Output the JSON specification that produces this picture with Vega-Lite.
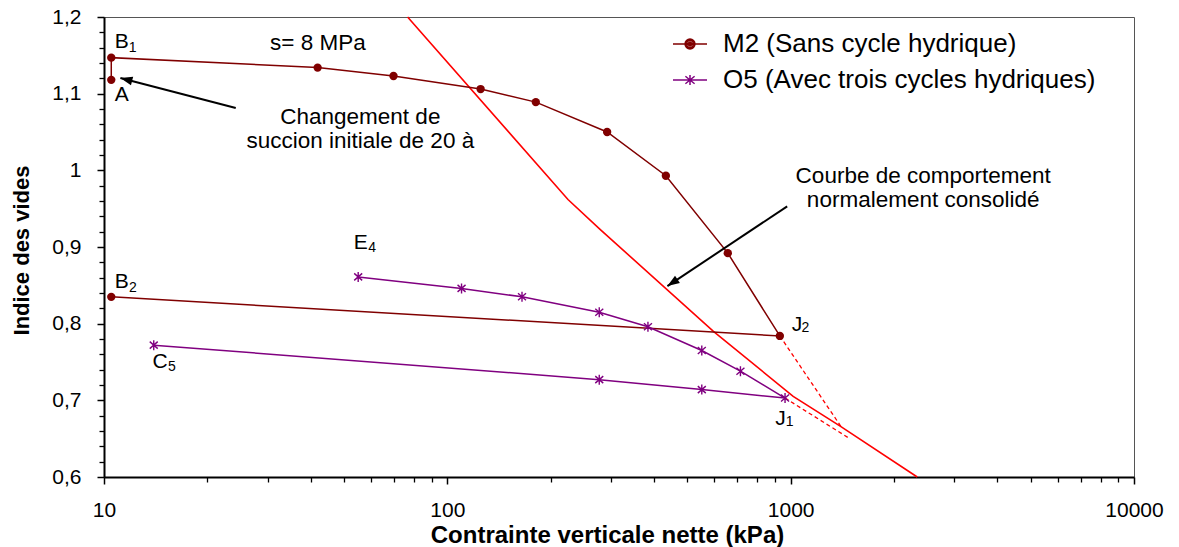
{
  "$schema": "https://vega.github.io/schema/vega-lite/v6.json",
  "autosize": {"type": "none"},
  "padding": {"left": 104, "top": 17, "right": 45, "bottom": 70},
  "width": 1030,
  "height": 460,
  "background": "white",
  "config": {
    "font": "Liberation Sans",
    "view": {"stroke": "#555", "strokeWidth": 1},
    "axis": {"grid": false, "domainColor": "#000", "tickColor": "#000", "labelColor": "#000", "titleColor": "#000"}
  },
  "datasets": {
    "curves": [
      {"serie": "M2 (Sans cycle hydrique)", "i": 0, "sigma": 10.5, "e": 1.118},
      {"serie": "M2 (Sans cycle hydrique)", "i": 1, "sigma": 10.5, "e": 1.147},
      {"serie": "M2 (Sans cycle hydrique)", "i": 2, "sigma": 41.9, "e": 1.134},
      {"serie": "M2 (Sans cycle hydrique)", "i": 3, "sigma": 69.7, "e": 1.123},
      {"serie": "M2 (Sans cycle hydrique)", "i": 4, "sigma": 125, "e": 1.106},
      {"serie": "M2 (Sans cycle hydrique)", "i": 5, "sigma": 181, "e": 1.089},
      {"serie": "M2 (Sans cycle hydrique)", "i": 6, "sigma": 292, "e": 1.05},
      {"serie": "M2 (Sans cycle hydrique)", "i": 7, "sigma": 433, "e": 0.993},
      {"serie": "M2 (Sans cycle hydrique)", "i": 8, "sigma": 656, "e": 0.892},
      {"serie": "M2 (Sans cycle hydrique)", "i": 9, "sigma": 930, "e": 0.784},
      {"serie": "M2 (Sans cycle hydrique)", "i": 10, "sigma": 10.5, "e": 0.835},
      {"serie": "O5 (Avec trois cycles hydriques)", "i": 0, "sigma": 55, "e": 0.861},
      {"serie": "O5 (Avec trois cycles hydriques)", "i": 1, "sigma": 110, "e": 0.846},
      {"serie": "O5 (Avec trois cycles hydriques)", "i": 2, "sigma": 165, "e": 0.835},
      {"serie": "O5 (Avec trois cycles hydriques)", "i": 3, "sigma": 277, "e": 0.815},
      {"serie": "O5 (Avec trois cycles hydriques)", "i": 4, "sigma": 384, "e": 0.796},
      {"serie": "O5 (Avec trois cycles hydriques)", "i": 5, "sigma": 551, "e": 0.765},
      {"serie": "O5 (Avec trois cycles hydriques)", "i": 6, "sigma": 714, "e": 0.738},
      {"serie": "O5 (Avec trois cycles hydriques)", "i": 7, "sigma": 963, "e": 0.703},
      {"serie": "O5 (Avec trois cycles hydriques)", "i": 8, "sigma": 551, "e": 0.714},
      {"serie": "O5 (Avec trois cycles hydriques)", "i": 9, "sigma": 277, "e": 0.727},
      {"serie": "O5 (Avec trois cycles hydriques)", "i": 10, "sigma": 13.96, "e": 0.772}
    ],
    "ncl": [
      {"sigma": 76.6, "e": 1.2},
      {"sigma": 224.6, "e": 0.962},
      {"sigma": 278.5, "e": 0.923},
      {"sigma": 595.7, "e": 0.79},
      {"sigma": 1017, "e": 0.7052},
      {"sigma": 1394, "e": 0.6664},
      {"sigma": 2337, "e": 0.6}
    ],
    "dash": [
      {"g": "J2", "sigma": 930, "e": 0.784},
      {"g": "J2", "sigma": 1410, "e": 0.664},
      {"g": "J1", "sigma": 963, "e": 0.703},
      {"g": "J1", "sigma": 1474, "e": 0.651}
    ],
    "arrows": [
      {"id": "a", "xt": 24.2, "yt": 1.0814, "xh": 11.16, "yh": 1.1205},
      {"id": "b", "xt": 977, "yt": 0.953, "xh": 437.5, "yh": 0.849}
    ],
    "letters": [
      {"txt": "B", "sigma": 10.744, "e": 1.1672},
      {"txt": "A", "sigma": 10.744, "e": 1.098},
      {"txt": "B", "sigma": 10.744, "e": 0.8544},
      {"txt": "C", "sigma": 13.84, "e": 0.75},
      {"txt": "E", "sigma": 53.4, "e": 0.9055},
      {"txt": "J", "sigma": 1008, "e": 0.7977},
      {"txt": "J", "sigma": 901.5, "e": 0.6752}
    ],
    "subs": [
      {"txt": "1", "sigma": 11.8, "e": 1.16},
      {"txt": "2", "sigma": 11.82, "e": 0.8468},
      {"txt": "5", "sigma": 15.35, "e": 0.743},
      {"txt": "4", "sigma": 58.8, "e": 0.899},
      {"txt": "2", "sigma": 1075, "e": 0.7937},
      {"txt": "1", "sigma": 967, "e": 0.6717}
    ],
    "notes": [
      {"txt": "s= 8 MPa", "sigma": 41.97, "e": 1.1665},
      {"txt": "Changement de", "sigma": 55.8, "e": 1.0694},
      {"txt": "succion initiale de 20 à", "sigma": 55.8, "e": 1.0388},
      {"txt": "Courbe de comportement", "sigma": 2432, "e": 0.9932},
      {"txt": "normalement consolidé", "sigma": 2432, "e": 0.9619}
    ]
  },
  "resolve": {"axis": {"x": "independent", "y": "independent"}, "legend": {"color": "independent", "shape": "independent"}},
  "layer": [
    {
      "data": {"name": "ncl"},
      "mark": {"type": "line", "color": "#ff0000", "strokeWidth": 1.6},
      "encoding": {
        "x": {"field": "sigma", "type": "quantitative", "scale": {"type": "log", "domain": [10, 10000]},
          "axis": {"orient": "bottom", "values": [20, 30, 40, 50, 60, 70, 80, 90, 200, 300, 400, 500, 600, 700, 800, 900, 2000, 3000, 4000, 5000, 6000, 7000, 8000, 9000], "labels": false, "tickSize": 5, "tickWidth": 1.3, "domain": false, "title": null}},
        "y": {"field": "e", "type": "quantitative", "scale": {"domain": [0.6, 1.2], "zero": false, "nice": false},
          "axis": {"orient": "left", "values": [0.62, 0.64, 0.66, 0.68, 0.72, 0.74, 0.76, 0.78, 0.82, 0.84, 0.86, 0.88, 0.92, 0.94, 0.96, 0.98, 1.02, 1.04, 1.06, 1.08, 1.12, 1.14, 1.16, 1.18], "labels": false, "tickSize": 5, "tickWidth": 1.3, "domain": false, "title": null}}
      }
    },
    {
      "data": {"name": "dash"},
      "mark": {"type": "line", "color": "#ff0000", "strokeWidth": 1.3, "strokeDash": [4, 3]},
      "encoding": {
        "x": {"field": "sigma", "type": "quantitative",
          "axis": {"orient": "bottom", "values": [10, 100, 1000, 10000], "format": "d", "tickSize": 7, "tickWidth": 1.5, "domainWidth": 2, "labelFontSize": 21, "labelPadding": 15, "labelFlush": false,
            "title": "Contrainte verticale nette (kPa)", "titleFontSize": 24, "titleFontWeight": "bold", "titleX": 503, "titleY": 46, "titleBaseline": "top", "titleAlign": "center"}},
        "y": {"field": "e", "type": "quantitative",
          "axis": {"orient": "left", "values": [0.6, 0.7, 0.8, 0.9, 1, 1.1, 1.2], "labelExpr": "replace(format(datum.value, '.1~f'), '.', ',')", "tickSize": 7, "tickWidth": 1.5, "domainWidth": 2, "labelFontSize": 21, "labelPadding": 16, "labelFlush": false,
            "title": "Indice des vides", "titleFontSize": 22, "titleFontWeight": "bold", "titleAngle": -90, "titleX": -76, "titleY": 233, "titleBaseline": "alphabetic", "titleAlign": "center"}},
        "detail": {"field": "g"}
      }
    },
    {
      "data": {"name": "curves"},
      "mark": {"type": "line", "strokeWidth": 1.5},
      "encoding": {
        "x": {"field": "sigma", "type": "quantitative", "axis": null},
        "y": {"field": "e", "type": "quantitative", "axis": null},
        "order": {"field": "i"},
        "detail": {"field": "serie"},
        "color": {"field": "serie", "type": "nominal",
          "scale": {"domain": ["M2 (Sans cycle hydrique)", "O5 (Avec trois cycles hydriques)"], "range": ["#800000", "#800080"]},
          "legend": null}
      }
    },
    {
      "data": {"name": "curves"},
      "mark": {"type": "point", "filled": false, "opacity": 0, "strokeWidth": 1.5},
      "encoding": {
        "x": {"field": "sigma", "type": "quantitative", "axis": null},
        "y": {"field": "e", "type": "quantitative", "axis": null},
        "color": {"field": "serie", "type": "nominal",
          "legend": {"orient": "none", "legendX": 568, "legendY": 9, "title": null, "padding": 0,
            "labelFont": "Liberation Sans", "labelFontSize": 26, "labelColor": "#000", "labelOffset": 15, "labelLimit": 600,
            "symbolSize": 1156, "symbolOpacity": 1, "symbolStrokeWidth": 1.5, "rowPadding": 5}},
        "shape": {"field": "serie", "type": "nominal",
          "scale": {"domain": ["M2 (Sans cycle hydrique)", "O5 (Avec trois cycles hydriques)"],
            "range": ["M-1,0L1,0M-0.29,0A0.29,0.29 0 1,1 0.29,0A0.29,0.29 0 1,1 -0.29,0M-0.2,0A0.2,0.2 0 1,1 0.2,0A0.2,0.2 0 1,1 -0.2,0M-0.11,0A0.11,0.11 0 1,1 0.11,0A0.11,0.11 0 1,1 -0.11,0M-0.04,0A0.04,0.04 0 1,1 0.04,0A0.04,0.04 0 1,1 -0.04,0",
                      "M-1,0L1,0M0,-0.3L0,0.3M-0.27,-0.22L0.27,0.22M-0.27,0.22L0.27,-0.22"]},
          "legend": {"orient": "none", "legendX": 568, "legendY": 9, "title": null, "padding": 0,
            "labelFont": "Liberation Sans", "labelFontSize": 26, "labelColor": "#000", "labelOffset": 15, "labelLimit": 600,
            "symbolSize": 1156, "symbolOpacity": 1, "symbolStrokeWidth": 1.5, "rowPadding": 5}}
      }
    },
    {
      "data": {"name": "curves"},
      "transform": [{"filter": "datum.serie === 'M2 (Sans cycle hydrique)'"}],
      "mark": {"type": "point", "filled": true, "shape": "circle", "size": 70, "color": "#800000", "opacity": 1},
      "encoding": {
        "x": {"field": "sigma", "type": "quantitative", "axis": null},
        "y": {"field": "e", "type": "quantitative", "axis": null}
      }
    },
    {
      "data": {"name": "curves"},
      "transform": [{"filter": "datum.serie === 'O5 (Avec trois cycles hydriques)'"}],
      "mark": {"type": "point", "filled": false, "shape": "M0,-1L0,1M-0.8,-0.7L0.8,0.7M-0.8,0.7L0.8,-0.7", "size": 100, "strokeWidth": 1.4, "color": "#800080", "opacity": 1},
      "encoding": {
        "x": {"field": "sigma", "type": "quantitative", "axis": null},
        "y": {"field": "e", "type": "quantitative", "axis": null}
      }
    },
    {
      "data": {"name": "arrows"},
      "mark": {"type": "rule", "color": "#000", "strokeWidth": 2},
      "encoding": {
        "x": {"field": "xt", "type": "quantitative", "axis": null},
        "y": {"field": "yt", "type": "quantitative", "axis": null},
        "x2": {"field": "xh"},
        "y2": {"field": "yh"}
      }
    },
    {
      "data": {"name": "arrows"},
      "transform": [{"filter": "datum.id === 'a'"}],
      "mark": {"type": "point", "filled": true, "shape": "M0,0L-0.4,1.1L0.4,1.1Z", "size": 484, "angle": 284.6, "color": "#000", "opacity": 1},
      "encoding": {
        "x": {"field": "xh", "type": "quantitative", "axis": null},
        "y": {"field": "yh", "type": "quantitative", "axis": null}
      }
    },
    {
      "data": {"name": "arrows"},
      "transform": [{"filter": "datum.id === 'b'"}],
      "mark": {"type": "point", "filled": true, "shape": "M0,0L-0.4,1.1L0.4,1.1Z", "size": 484, "angle": 236.3, "color": "#000", "opacity": 1},
      "encoding": {
        "x": {"field": "xh", "type": "quantitative", "axis": null},
        "y": {"field": "yh", "type": "quantitative", "axis": null}
      }
    },
    {
      "data": {"name": "letters"},
      "mark": {"type": "text", "align": "left", "baseline": "middle", "fontSize": 21, "color": "#000"},
      "encoding": {
        "x": {"field": "sigma", "type": "quantitative", "axis": null},
        "y": {"field": "e", "type": "quantitative", "axis": null},
        "text": {"field": "txt"}
      }
    },
    {
      "data": {"name": "subs"},
      "mark": {"type": "text", "align": "left", "baseline": "middle", "fontSize": 14, "color": "#000"},
      "encoding": {
        "x": {"field": "sigma", "type": "quantitative", "axis": null},
        "y": {"field": "e", "type": "quantitative", "axis": null},
        "text": {"field": "txt"}
      }
    },
    {
      "data": {"name": "notes"},
      "mark": {"type": "text", "align": "center", "baseline": "middle", "fontSize": 22.5, "color": "#000"},
      "encoding": {
        "x": {"field": "sigma", "type": "quantitative", "axis": null},
        "y": {"field": "e", "type": "quantitative", "axis": null},
        "text": {"field": "txt"}
      }
    }
  ]
}
